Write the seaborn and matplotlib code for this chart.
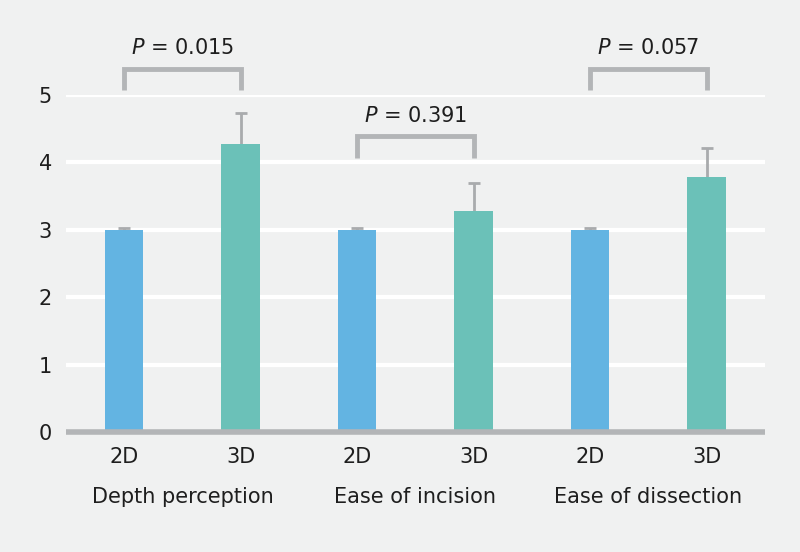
import pandas as pd
import seaborn as sns
import matplotlib.pyplot as plt

# data
groups = ["Depth perception", "Ease of incision", "Ease of dissection"]
modes = ["2D", "3D"]
mean_2d = [3.0, 3.0, 3.0]
mean_3d = [4.27, 3.28, 3.78]
sd_2d = [0.03, 0.03, 0.03]
sd_3d = [0.46, 0.41, 0.43]
p_values = ["0.015", "0.391", "0.057"]

BG = "#f0f1f1"
COLORS = {"2D": "#63b4e2", "3D": "#6bc1b8"}
GREY = "#b3b5b7"
TXT = "#1e1e1e"

rows = []
for i, g in enumerate(groups):
    rows.append({"slot": f"{g} 2D", "mode": "2D", "mean": mean_2d[i], "sd": sd_2d[i]})
    rows.append({"slot": f"{g} 3D", "mode": "3D", "mean": mean_3d[i], "sd": sd_3d[i]})
df = pd.DataFrame(rows)

sns.set_theme(style="white")
plt.rcParams["font.family"] = ["DejaVu Sans"]

fig = plt.figure(figsize=(8, 5.52), dpi=100, facecolor=BG)
ax = fig.add_axes([0.0825, 0.2174, 0.8735, 0.6105])
ax.set_facecolor(BG)

sns.barplot(data=df, x="slot", y="mean", hue="mode", palette=COLORS,
            dodge=False, width=0.33, legend=False, saturation=1,
            linewidth=0, ax=ax, zorder=3)

# one-sided error bars (upper only)
eb = ax.errorbar(range(len(df)), df["mean"], yerr=[[0] * len(df), df["sd"]],
                 fmt="none", ecolor="#a9abad", elinewidth=2, capsize=4.5,
                 capthick=2, zorder=2)
eb[1][0].set_visible(False)

ax.set_ylim(0, 5)
ax.set_xlim(-0.5, 5.5)
ax.set_yticks(range(0, 6))
for y in range(1, 6):
    ax.axhline(y, color="white", lw=3, zorder=1)

for s in ["top", "right", "left"]:
    ax.spines[s].set_visible(False)
ax.spines["bottom"].set_color(GREY)
ax.spines["bottom"].set_linewidth(4)
ax.spines["bottom"].set_capstyle("butt")
ax.spines["bottom"].set_zorder(4)

ax.set_xticks(range(len(df)))
ax.set_xticklabels([m for _ in groups for m in modes], fontsize=15, color=TXT)
ax.tick_params(axis="x", length=0, pad=11)
ax.tick_params(axis="y", length=0, pad=10, labelsize=15, labelcolor=TXT)
ax.set_xlabel("")
ax.set_ylabel("")

for i, g in enumerate(groups):
    ax.text(2 * i + 0.5, -0.97, g, ha="center", va="center", fontsize=15,
            color=TXT, transform=ax.transData)

# significance brackets
bracket_y = [5.39, 4.39, 5.39]
for i, p in enumerate(p_values):
    x0, x1 = 2 * i, 2 * i + 1
    yb = bracket_y[i]
    ax.plot([x0, x0, x1, x1], [yb - 0.32, yb, yb, yb - 0.32], color=GREY,
            lw=3.5, clip_on=False, zorder=5, solid_joinstyle="miter",
            solid_capstyle="butt")
    ax.text((x0 + x1) / 2, yb + 0.3, f"$\\it{{P}}$ = {p}", ha="center",
            va="center", fontsize=15, color=TXT, clip_on=False)

fig.savefig("out.png", dpi=100, facecolor=BG)
